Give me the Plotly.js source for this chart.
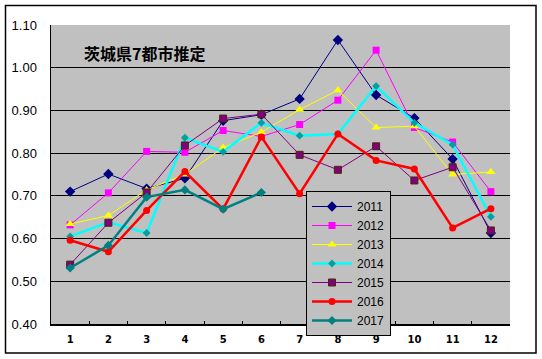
<!DOCTYPE html>
<html>
<head>
<meta charset="utf-8">
<script src="https://cdn.plot.ly/plotly-3.0.1.min.js"></script>
<style>
html,body{margin:0;padding:0;background:#fff;}
#chart{width:542px;height:359px;}
</style>
</head>
<body>
<div id="chart"></div>
<script>
const months = ["1","2","3","4","5","6","7","8","9","10","11","12"];
const titleText = "茨城県7都市推定";
const y2011 = [0.710, 0.751, 0.717, 0.741, 0.876, 0.890, 0.927, 1.065, 0.936, 0.882, 0.786, 0.613];
const y2012 = [0.632, 0.707, 0.804, 0.802, 0.853, 0.839, 0.867, 0.924, 1.041, 0.860, 0.826, 0.710];
const y2013 = [0.634, 0.654, 0.714, 0.750, 0.813, 0.849, 0.902, 0.947, 0.860, 0.863, 0.750, 0.756];
const y2014 = [0.605, 0.638, 0.613, 0.836, 0.803, 0.871, 0.841, 0.845, 0.957, 0.871, 0.820, 0.651];
const y2015 = [0.539, 0.637, 0.708, 0.818, 0.881, 0.891, 0.796, 0.761, 0.816, 0.736, 0.767, 0.619];
const y2016 = [0.596, 0.569, 0.666, 0.757, 0.669, 0.838, 0.705, 0.845, 0.783, 0.763, 0.625, 0.670];
const y2017 = [0.531, 0.584, 0.697, 0.714, 0.669, 0.708];

function tr(name, y, color, width, symbol, size, mcolor, mline) {
  return {
    type: 'scatter', mode: 'lines+markers', name: name,
    x: months.slice(0, y.length), y: y,
    line: {color: color, width: width},
    marker: {symbol: symbol, size: size, color: mcolor || color,
             line: {color: mline || (mcolor || color), width: mline ? 1 : 0}}
  };
}

const data = [
  tr('2011', y2011, '#000080', 1, 'diamond', 8),
  tr('2012', y2012, '#FF00FF', 1, 'square', 7),
  tr('2013', y2013, '#FFFF00', 1, 'triangle-up', 8),
  tr('2014', y2014, '#00FFFF', 2.5, 'diamond', 6, '#00A0A0'),
  tr('2015', y2015, '#800080', 1, 'square', 7, '#800080', '#4A2A00'),
  tr('2016', y2016, '#FF0000', 2.5, 'circle', 7),
  tr('2017', y2017, '#008080', 2.5, 'diamond', 7)
];

const L = 51, T = 25, W = 459, H = 299;
function px(x) { return (x - L) / W; }
function py(y) { return (T + H - y) / H; }

const layout = {
  width: 542, height: 359,
  margin: {l: L, r: 542 - L - W, t: T, b: 359 - T - H, pad: 0, autoexpand: false},
  paper_bgcolor: '#FFFFFF',
  plot_bgcolor: '#C0C0C0',
  showlegend: true,
  font: {family: 'Liberation Sans, Arial, sans-serif', color: '#000'},
  xaxis: {
    type: 'category', tickson: 'boundaries', automargin: false,
    showgrid: false, zeroline: false,
    showline: true, linecolor: '#000', linewidth: 1.5,
    ticks: 'inside', ticklen: 3, tickcolor: '#000',
    tickfont: {size: 10, family: 'DejaVu Sans, sans-serif', weight: 'bold'},
    ticklabelstandoff: 5,
    range: [-0.5, 11.5], fixedrange: true
  },
  yaxis: {
    range: [0.4, 1.1], dtick: 0.1, tick0: 0.4, tickformat: '.2f', automargin: false,
    showgrid: true, gridcolor: '#000', gridwidth: 1,
    zeroline: false, showline: true, linecolor: '#000', linewidth: 1.5,
    ticks: '', ticklabelstandoff: 10,
    tickfont: {size: 13, family: 'Liberation Sans, Arial, sans-serif'},
    fixedrange: true
  },
  legend: {
    x: px(306), y: py(191), xanchor: 'left', yanchor: 'top',
    bgcolor: '#C0C0C0', bordercolor: '#000', borderwidth: 1,
    font: {size: 12, family: 'Liberation Sans, Arial, sans-serif'},
    tracegroupgap: 0, itemwidth: 40, entrywidth: 95
  },
  annotations: [{
    text: '<b>' + titleText + '</b>', xref: 'paper', yref: 'paper',
    x: px(82), y: py(53), xanchor: 'left', yanchor: 'middle',
    showarrow: false,
    font: {size: 16, family: 'Noto Sans CJK JP, sans-serif', color: '#000'}
  }],
  shapes: [{
    type: 'rect', xref: 'paper', yref: 'paper',
    x0: px(5.5), x1: px(536), y0: py(353), y1: py(5.5),
    line: {color: '#000', width: 1.5}, fillcolor: 'rgba(0,0,0,0)', layer: 'below'
  }]
};

Plotly.newPlot('chart', data, layout, {displayModeBar: false, staticPlot: true});
</script>
</body>
</html>
